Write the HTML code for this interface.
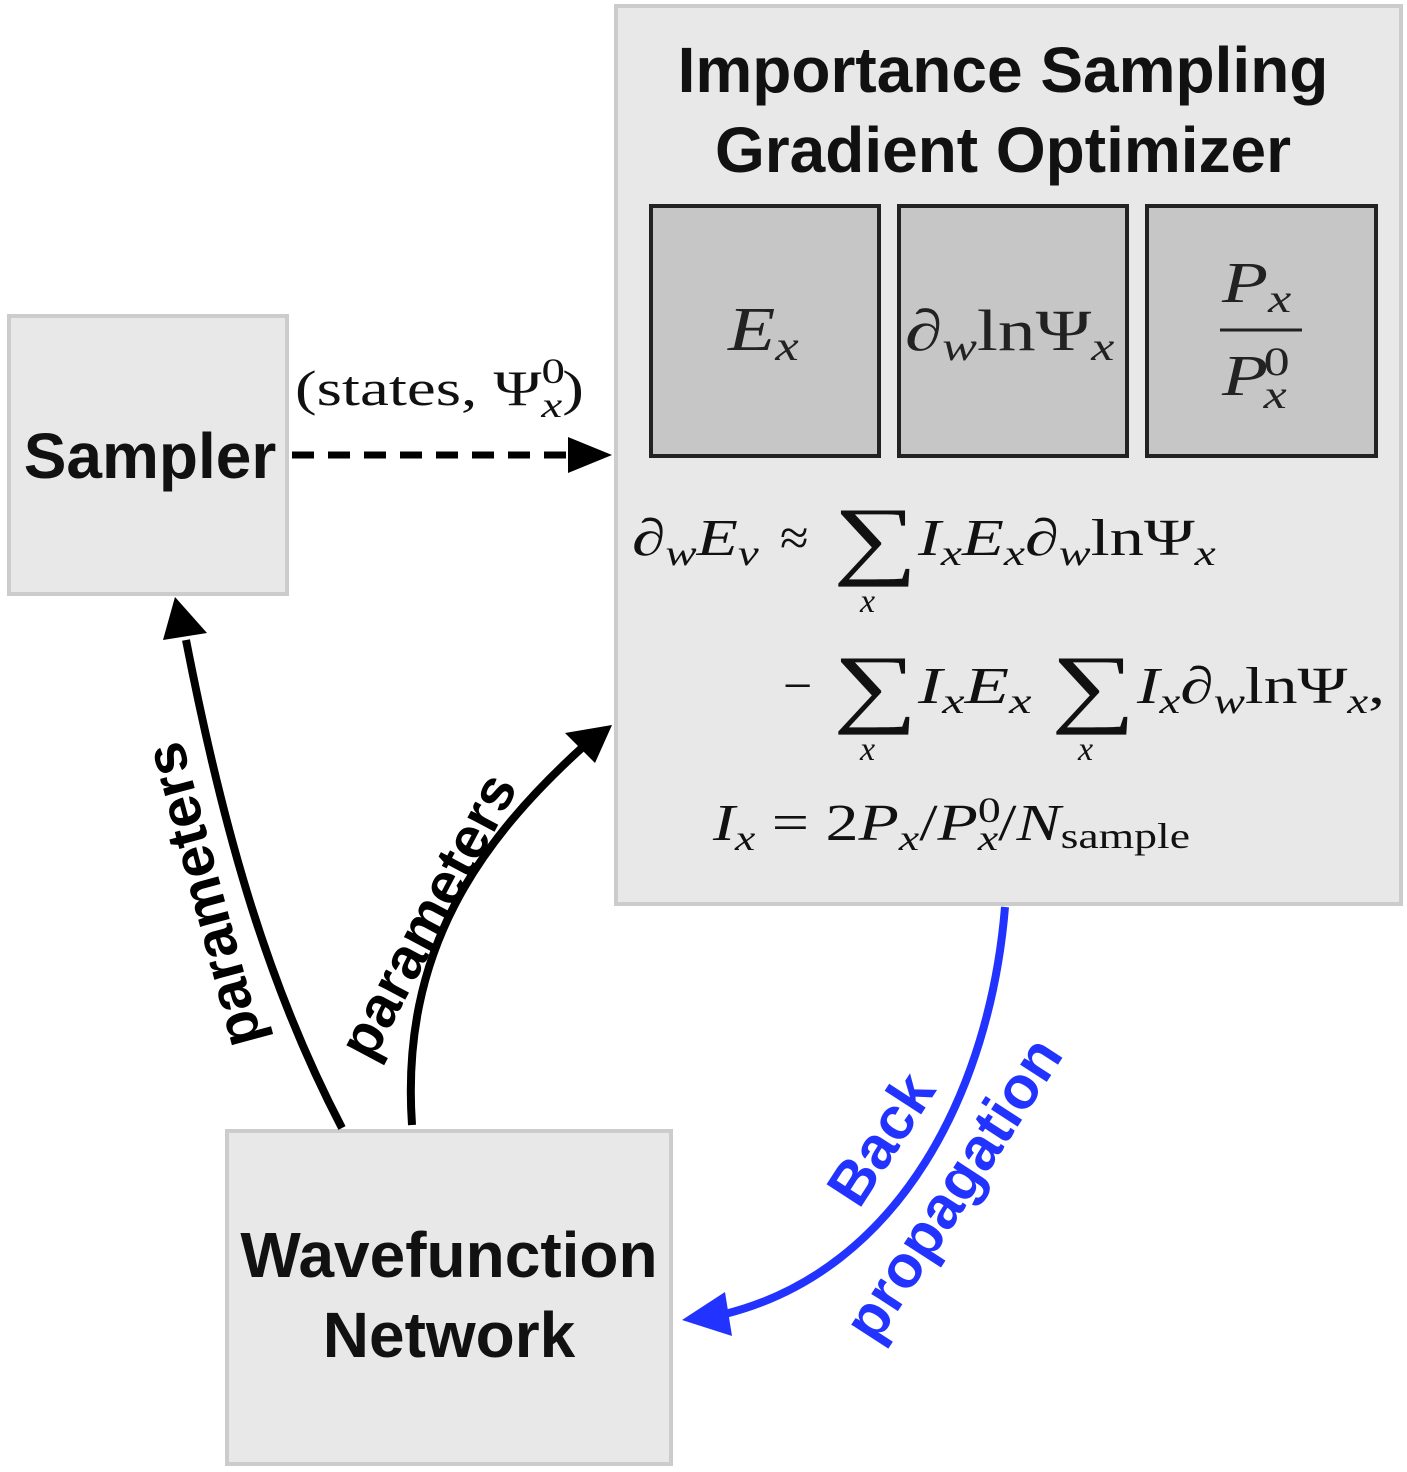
<!DOCTYPE html>
<html><head><meta charset="utf-8"><style>
html,body{margin:0;padding:0;background:#fff}
svg{display:block}
.b{font-family:"Liberation Sans",sans-serif;font-weight:bold}
.m{font-family:"Liberation Serif",serif}
.i{font-style:italic}
</style></head><body>
<svg width="1407" height="1472" viewBox="0 0 1407 1472" xmlns="http://www.w3.org/2000/svg">
<!-- big box -->
<rect x="616" y="6" width="785" height="898" fill="#e8e8e8" stroke="#cccccc" stroke-width="4"/>
<text class="b" x="1003" y="92" font-size="64" text-anchor="middle" fill="#111">Importance Sampling</text>
<text class="b" x="1003" y="172" font-size="64" text-anchor="middle" fill="#111">Gradient Optimizer</text>
<rect x="651" y="206" width="228" height="250" fill="#c6c6c6" stroke="#222" stroke-width="4"/>
<rect x="899" y="206" width="228" height="250" fill="#c6c6c6" stroke="#222" stroke-width="4"/>
<rect x="1147" y="206" width="229" height="250" fill="#c6c6c6" stroke="#222" stroke-width="4"/>
<g transform="translate(728,350) scale(1.25,1)"><text class="m i" x="0" y="0" font-size="62" fill="#222">E<tspan font-size="42" dy="10">x</tspan></text></g>
<g transform="translate(905,350) scale(1.3,1)"><text class="m" x="0" y="0" font-size="58" fill="#222"><tspan class="i">∂</tspan><tspan class="i" font-size="40" dy="10">w</tspan><tspan dy="-10">lnΨ</tspan><tspan class="i" font-size="40" dy="10">x</tspan></text></g>
<g transform="translate(1222,302) scale(1.3,1)"><text class="m i" x="0" y="0" font-size="58" fill="#222">P<tspan font-size="40" dy="10">x</tspan></text></g>
<line x1="1220" y1="330" x2="1302" y2="330" stroke="#222" stroke-width="3"/>
<g transform="translate(1222,395) scale(1.3,1)"><text class="m i" x="0" y="0" font-size="58" fill="#222">P</text>
<text class="m" x="32" y="-20" font-size="40" fill="#222">0</text>
<text class="m i" x="32" y="13" font-size="40" fill="#222">x</text></g>
<!-- formulas -->
<g class="m" fill="#111">
<g transform="translate(632,555) scale(1.3,1)"><text x="0" y="0" font-size="52"><tspan class="i">∂</tspan><tspan class="i" font-size="36" dy="10">w</tspan><tspan class="i" dy="-10">E</tspan><tspan class="i" font-size="36" dy="10">v</tspan></text></g>
<text x="780" y="555" font-size="52">≈</text>
<g transform="translate(833,568) scale(1.35,1)"><text x="0" y="0" font-size="88">∑</text></g>
<text class="i" x="860" y="612" font-size="34">x</text>
<g transform="translate(918,555) scale(1.32,1)"><text x="0" y="0" font-size="52"><tspan class="i">I</tspan><tspan class="i" font-size="36" dy="10">x</tspan><tspan class="i" dy="-10">E</tspan><tspan class="i" font-size="36" dy="10">x</tspan><tspan class="i" dy="-10">∂</tspan><tspan class="i" font-size="36" dy="10">w</tspan><tspan dy="-10">lnΨ</tspan><tspan class="i" font-size="36" dy="10">x</tspan></text></g>
<text x="783" y="703" font-size="52">−</text>
<g transform="translate(833,716) scale(1.35,1)"><text x="0" y="0" font-size="88">∑</text></g>
<text class="i" x="860" y="760" font-size="34">x</text>
<g transform="translate(918,703) scale(1.4,1)"><text x="0" y="0" font-size="52"><tspan class="i">I</tspan><tspan class="i" font-size="36" dy="10">x</tspan><tspan class="i" dy="-10">E</tspan><tspan class="i" font-size="36" dy="10">x</tspan></text></g>
<g transform="translate(1051,716) scale(1.35,1)"><text x="0" y="0" font-size="88">∑</text></g>
<text class="i" x="1078" y="760" font-size="34">x</text>
<g transform="translate(1137,703) scale(1.3,1)"><text x="0" y="0" font-size="52"><tspan class="i">I</tspan><tspan class="i" font-size="36" dy="10">x</tspan><tspan class="i" dy="-10">∂</tspan><tspan class="i" font-size="36" dy="10">w</tspan><tspan dy="-10">lnΨ</tspan><tspan class="i" font-size="36" dy="10">x</tspan><tspan dy="-10">,</tspan></text></g>
<g transform="translate(713,840) scale(1.27,1)"><text x="0" y="0" font-size="52"><tspan class="i">I</tspan><tspan class="i" font-size="36" dy="10">x</tspan><tspan dy="-10"> = 2</tspan><tspan class="i">P</tspan><tspan class="i" font-size="36" dy="10">x</tspan><tspan dy="-10">/</tspan><tspan class="i">P</tspan><tspan font-size="36" dy="-18">0</tspan><tspan class="i" font-size="36" dx="-18" dy="28">x</tspan><tspan dy="-10">/</tspan><tspan class="i">N</tspan><tspan font-size="36" dy="8">sample</tspan></text></g>
</g>
<!-- sampler -->
<rect x="9" y="316" width="278" height="278" fill="#e8e8e8" stroke="#cccccc" stroke-width="4"/>
<text class="b" x="150" y="478" font-size="64" text-anchor="middle" fill="#111">Sampler</text>
<!-- wavefunction -->
<rect x="227" y="1131" width="444" height="333" fill="#e8e8e8" stroke="#cccccc" stroke-width="4"/>
<text class="b" x="449" y="1277" font-size="64" text-anchor="middle" fill="#111">Wavefunction</text>
<text class="b" x="449" y="1357" font-size="64" text-anchor="middle" fill="#111">Network</text>
<!-- dashed arrow -->
<line x1="292" y1="455" x2="570" y2="455" stroke="#000" stroke-width="7" stroke-dasharray="22,14"/>
<polygon points="612,455 568,437 568,473" fill="#000"/>
<g transform="translate(295,405) scale(1.3,1)"><text class="m" x="0" y="0" font-size="50" fill="#111">(states, Ψ<tspan font-size="36" dy="-22">0</tspan><tspan class="i" font-size="36" dx="-18" dy="34">x</tspan><tspan dy="-12">)</tspan></text></g>
<!-- left param arrow -->
<path d="M342,1128 C270,990 225,840 186,640" fill="none" stroke="#000" stroke-width="8"/>
<polygon points="175,597 163,640 207,633" fill="#000"/>
<text class="b" font-size="58" fill="#000" text-anchor="middle" transform="translate(222,890) rotate(-105)">parameters</text>
<!-- right param arrow -->
<path d="M412,1125 C400,950 480,840 585,745" fill="none" stroke="#000" stroke-width="8"/>
<polygon points="612,725 565,733 595,763" fill="#000"/>
<text class="b" font-size="58" fill="#000" text-anchor="middle" transform="translate(445,925) rotate(-62)">parameters</text>
<!-- blue arrow -->
<path d="M1005,907 C990,1090 900,1270 725,1314" fill="none" stroke="#2233ff" stroke-width="8"/>
<polygon points="682,1320 725,1292 732,1336" fill="#2233ff"/>
<text class="b" font-size="60" fill="#2233ff" text-anchor="middle" transform="translate(898,1150) rotate(-57)">Back</text>
<text class="b" font-size="60" fill="#2233ff" text-anchor="middle" transform="translate(970,1200) rotate(-57)">propagation</text>
</svg>
</body></html>
